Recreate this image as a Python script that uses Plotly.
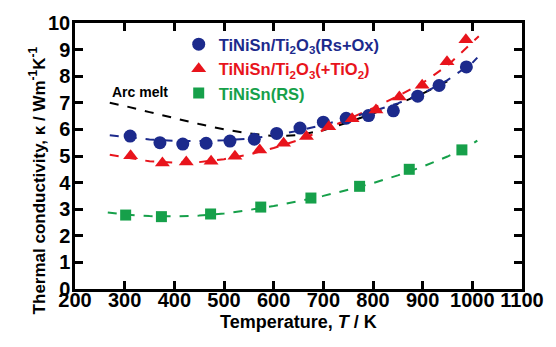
import plotly.graph_objects as go

# ---- data ----
T_blue = [311, 371, 417, 464, 512, 561, 606, 653, 700, 746, 791, 841, 890, 933, 988]
k_blue = [5.75, 5.50, 5.45, 5.48, 5.56, 5.63, 5.85, 6.05, 6.27, 6.42, 6.52, 6.70, 7.25, 7.65, 8.35]

T_red = [312, 376, 424, 474, 522, 572, 620, 666, 711, 758, 806, 853, 899, 949, 987]
k_red = [5.01, 4.74, 4.77, 4.80, 4.99, 5.23, 5.48, 5.73, 6.10, 6.40, 6.73, 7.22, 7.66, 8.54, 9.37]

T_green = [302, 374, 473, 574, 675, 773, 873, 979]
k_green = [2.78, 2.72, 2.82, 3.08, 3.42, 3.86, 4.50, 5.23]

# dashed trend curves
T_fit_blue = [270, 300, 350, 400, 450, 500, 550, 600, 650, 700, 750, 800, 850, 900, 950, 1000, 1010]
k_fit_blue = [5.78, 5.72, 5.62, 5.57, 5.56, 5.59, 5.65, 5.77, 5.95, 6.17, 6.42, 6.68, 6.98, 7.35, 7.85, 8.50, 8.70]

T_fit_red = [270, 300, 350, 400, 450, 500, 550, 600, 650, 700, 750, 800, 850, 900, 950, 1000, 1013]
k_fit_red = [5.05, 4.95, 4.80, 4.75, 4.77, 4.88, 5.05, 5.30, 5.60, 5.97, 6.37, 6.80, 7.25, 7.75, 8.40, 9.25, 9.50]

T_fit_green = [266, 300, 350, 400, 450, 500, 550, 600, 650, 700, 750, 800, 850, 900, 950, 1000, 1010]
k_fit_green = [2.88, 2.80, 2.74, 2.73, 2.76, 2.84, 2.97, 3.12, 3.30, 3.50, 3.73, 3.98, 4.27, 4.60, 4.98, 5.45, 5.58]

T_arc = [270, 300, 350, 400, 450, 500, 550, 600, 650, 700, 750, 800, 850, 900, 960]
k_arc = [7.00, 6.88, 6.65, 6.42, 6.20, 6.00, 5.85, 5.75, 5.78, 5.97, 6.27, 6.60, 6.95, 7.35, 7.90]

x_ticks = [200, 300, 400, 500, 600, 700, 800, 900, 1000, 1100]
y_ticks = [0, 1, 2, 3, 4, 5, 6, 7, 8, 9, 10]

BLUE = "#1c2a8c"
RED = "#e8141c"
GREEN = "#16a04a"
FONT = "Liberation Sans"

fig = go.Figure()

fig.add_trace(go.Scatter(x=T_arc, y=k_arc, mode="lines", showlegend=False,
                         line=dict(color="black", width=2, dash="dash")))
fig.add_trace(go.Scatter(x=T_fit_green, y=k_fit_green, mode="lines", showlegend=False,
                         line=dict(color=GREEN, width=2, dash="dash")))
fig.add_trace(go.Scatter(x=T_fit_red, y=k_fit_red, mode="lines", showlegend=False,
                         line=dict(color=RED, width=2, dash="dash")))
fig.add_trace(go.Scatter(x=T_fit_blue, y=k_fit_blue, mode="lines", showlegend=False,
                         line=dict(color=BLUE, width=2, dash="dash")))

fig.add_trace(go.Scatter(x=T_blue, y=k_blue, mode="markers",
                         name=f"<span style='color:{BLUE}'>TiNiSn/Ti<sub>2</sub>O<sub>3</sub>(Rs+Ox)</span>",
                         marker=dict(symbol="circle", size=13, color=BLUE)))
fig.add_trace(go.Scatter(x=T_red, y=k_red, mode="markers",
                         name=f"<span style='color:{RED}'>TiNiSn/Ti<sub>2</sub>O<sub>3</sub>(+TiO<sub>2</sub>)</span>",
                         marker=dict(symbol="triangle-up", size=13, color=RED)))
fig.add_trace(go.Scatter(x=T_green, y=k_green, mode="markers",
                         name=f"<span style='color:{GREEN}'>TiNiSn(RS)</span>",
                         marker=dict(symbol="square", size=11, color=GREEN)))

axis_common = dict(showline=True, linecolor="black", linewidth=2.5, mirror="ticks",
                   ticks="inside", ticklen=8, tickwidth=2.5, tickcolor="black",
                   showgrid=False, zeroline=False,
                   tickfont=dict(family=FONT, size=20, color="black", weight="bold"))

fig.update_xaxes(range=[200, 1100], tickvals=x_ticks, ticktext=[str(v) for v in x_ticks],
                 ticklabelstandoff=-9, **axis_common)
fig.update_yaxes(range=[0, 10], tickvals=y_ticks, ticktext=[str(v) for v in y_ticks],
                 ticklabelstandoff=-2, **axis_common)

fig.update_layout(
    width=556, height=347,
    margin=dict(l=75, r=29, t=17, b=58),
    paper_bgcolor="white", plot_bgcolor="white",
    legend=dict(x=0.232, y=0.985, xanchor="left", yanchor="top",
                bgcolor="rgba(0,0,0,0)", itemwidth=30, tracegroupgap=0,
                font=dict(family=FONT, size=16.5, weight="bold")),
    annotations=[
        dict(text="Arc melt", x=330, y=7.42, xref="x", yref="y", showarrow=False,
             font=dict(family=FONT, size=14, color="black", weight="bold")),
        dict(text="Thermal conductivity, κ / Wm<sup>-1</sup>K<sup>-1</sup>", textangle=-90,
             x=-0.084, y=0.41, xref="paper", yref="paper", xanchor="center", yanchor="middle",
             showarrow=False, font=dict(family=FONT, size=17, color="black", weight="bold")),
        dict(text="Temperature, <i>T</i> / K", x=0.5, y=-0.123, xref="paper", yref="paper",
             xanchor="center", yanchor="middle", showarrow=False,
             font=dict(family=FONT, size=18, color="black", weight="bold")),
    ],
)

fig.write_html("out.html")
